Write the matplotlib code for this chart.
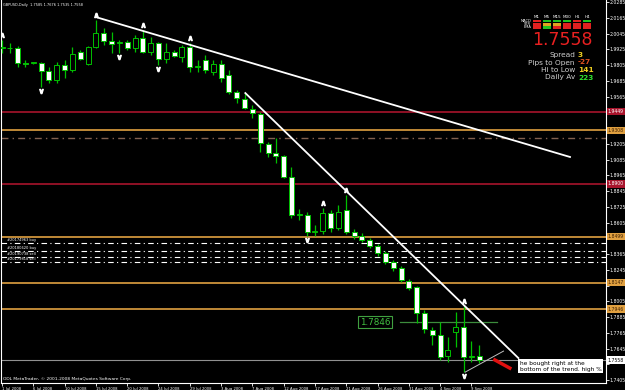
import matplotlib
matplotlib.use("Agg")
import matplotlib.pyplot as plt
from matplotlib.patches import Rectangle

# GBPUSD daily, 1 Jul - 10 Sep 2008 (ODL feed: Sunday bars included)
opens = [1.9935, 1.9935, 1.9935, 1.9821, 1.9821, 1.9821, 1.9760, 1.9691, 1.9806, 1.9768,
         1.9905, 1.9813, 1.9943, 2.0050, 1.9989, 1.9973, 1.9981, 1.9935, 2.0011, 1.9905,
         1.9973, 1.9851, 1.9905, 1.9867, 1.9943, 1.9790, 1.9844, 1.9752, 1.9813, 1.9729,
         1.9600, 1.9547, 1.9470, 1.9432, 1.9204, 1.9135, 1.9112, 1.8952, 1.8663, 1.8663,
         1.8533, 1.8540, 1.8678, 1.8564, 1.8700, 1.8533, 1.8503, 1.8472, 1.8426, 1.8373,
         1.8305, 1.8259, 1.8160, 1.8114, 1.7916, 1.7786, 1.7748, 1.7588, 1.7771, 1.7809,
         1.7581, 1.7585]
highs = [1.9996, 1.9973, 1.9950, 1.9844, 1.9829, 1.9829, 1.9790, 1.9829, 1.9844, 1.9943,
         1.9920, 1.9950, 2.0149, 2.0088, 2.0057, 1.9996, 1.9996, 2.0034, 2.0072, 2.0019,
         1.9980, 1.9973, 1.9920, 1.9958, 1.9973, 1.9844, 1.9882, 1.9844, 1.9844, 1.9768,
         1.9615, 1.9592, 1.9501, 1.9448, 1.9219, 1.9249, 1.9120, 1.9028, 1.8710, 1.8686,
         1.8586, 1.8716, 1.8700, 1.8739, 1.8815, 1.8556, 1.8525, 1.8490, 1.8440, 1.8390,
         1.8320, 1.8275, 1.8175, 1.8125, 1.7939, 1.7809, 1.7847, 1.7733, 1.7924, 1.7969,
         1.7703, 1.7676]
lows = [1.9897, 1.9897, 1.9790, 1.9790, 1.9813, 1.9638, 1.9669, 1.9669, 1.9707, 1.9752,
        1.9844, 1.9806, 1.9935, 1.9958, 1.9897, 1.9897, 1.9920, 1.9905, 1.9897, 1.9882,
        1.9806, 1.9821, 1.9867, 1.9829, 1.9752, 1.9752, 1.9745, 1.9729, 1.9676, 1.9585,
        1.9516, 1.9470, 1.9402, 1.9143, 1.9105, 1.9059, 1.8945, 1.8640, 1.8625, 1.8503,
        1.8503, 1.8520, 1.8533, 1.8550, 1.8518, 1.8480, 1.8460, 1.8410, 1.8350, 1.8290,
        1.8240, 1.8150, 1.8090, 1.7840, 1.7764, 1.7672, 1.7558, 1.7543, 1.7657, 1.7466,
        1.7543, 1.7535]
closes = [1.9943, 1.9935, 1.9821, 1.9813, 1.9825, 1.9760, 1.9691, 1.9806, 1.9768, 1.9890,
          1.9851, 1.9943, 2.0050, 1.9989, 1.9966, 1.9981, 1.9935, 2.0011, 1.9905, 1.9973,
          1.9851, 1.9905, 1.9874, 1.9943, 1.9790, 1.9798, 1.9768, 1.9813, 1.9707, 1.9600,
          1.9554, 1.9478, 1.9440, 1.9211, 1.9135, 1.9112, 1.8952, 1.8663, 1.8670, 1.8533,
          1.8540, 1.8678, 1.8564, 1.8686, 1.8533, 1.8503, 1.8472, 1.8426, 1.8373, 1.8305,
          1.8259, 1.8167, 1.8106, 1.7916, 1.7794, 1.7748, 1.7581, 1.7634, 1.7809, 1.7581,
          1.7588, 1.7558]

date_labels = ["1 Jul 2008", "6 Jul 2008", "10 Jul 2008", "15 Jul 2008", "20 Jul 2008",
               "24 Jul 2008", "29 Jul 2008", "3 Aug 2008", "7 Aug 2008", "12 Aug 2008",
               "17 Aug 2008", "21 Aug 2008", "26 Aug 2008", "31 Aug 2008", "4 Sep 2008",
               "9 Sep 2008"]

up_fractals = [0, 12, 18, 24, 41, 44, 59]
down_fractals = [5, 15, 20, 39, 59]

# horizontal levels: (price, kind)
levels = [(1.9449, "red"), (1.9308, "orange"), (1.8900, "red"), (1.8499, "orange"),
          (1.8147, "orange"), (1.7946, "orange")]
dashdot_level = 1.9249
orders = [(1.8449, "#20174963 buy"), (1.8388, "#20180620 buy"),
          (1.8343, "#20190738 sell"), (1.8305, "#20179818 sell")]
bid = 1.7558
green_level = 1.7846

# trend lines as (bar, price) pairs
trend1 = [(12.0, 2.0171), (72.6, 1.9105)]
trend2 = [(31.1, 1.9592), (66.0, 1.7573)]
trend3 = [(59.2, 1.7466), (64.1, 1.7626)]
arrow = [(62.8, 1.7565), (65.1, 1.7490)]

tick_start, tick_step, tick_count = 1.7405, 0.012, 25

timeframes = ["M1", "M5", "M15", "M30", "H1", "H4"]
ind_rows = ["MACD", "STR", "EMA"]
ind_colors = [["r", "g", "g", "g", "r", "g"],
              ["r", "o", "o", "r", "r", "r"],
              ["r", "g", "r", "r", "r", "r"]]
info = [("Spread", "3", "#f0d020"), ("Pips to Open", "-27", "#e05020"),
        ("Hi to Low", "141", "#f0d020"), ("Daily Av", "223", "#30e030")]

RED = "#a8142c"
ORANGE = "#e0a040"
GREEN = "#00c000"
W, H = 625, 390

fig = plt.figure(figsize=(6.25, 3.9), dpi=100, facecolor="black")
ax = fig.add_axes([1 / W, 7 / H, 605 / W, 383 / H], facecolor="black")
ax.set_xlim(-0.13, 77.2)
ax.set_ylim(1.7383, 2.0301)

# candles
for i in range(len(opens)):
    o, h, l, c = opens[i], highs[i], lows[i], closes[i]
    ax.vlines(i, l, h, color=GREEN, lw=0.9, zorder=3)
    bottom = min(o, c)
    height = max(abs(c - o), 0.0004)
    face = "white" if c < o else "black"
    ax.add_patch(Rectangle((i - 0.32, bottom), 0.64, height, facecolor=face,
                           edgecolor=GREEN, lw=0.7, zorder=4))

for i in up_fractals:
    ax.plot(i, highs[i] + 0.0035, marker=r"$\wedge$", color="white", ms=3, zorder=5)
for i in down_fractals:
    ax.plot(i, lows[i] - 0.0032, marker=r"$\vee$", color="white", ms=3, zorder=5)

# levels
for price, kind in levels:
    col = RED if kind == "red" else ORANGE
    ax.axhline(price, color=col, lw=1.2, zorder=1)
    ax.text(1.003, price, f"{price:.4f}", transform=ax.get_yaxis_transform(),
            fontsize=3.3, color="white" if kind == "red" else "#402000",
            va="center", ha="left", zorder=6,
            bbox=dict(boxstyle="square,pad=0.25", fc=col, ec="none"))
ax.axhline(dashdot_level, color="#806050", lw=1.0, ls=(0, (5, 3, 1, 3)), zorder=1)
for price, name in orders:
    ax.axhline(price, color="white", lw=0.8, ls=(0, (5, 3, 1, 3)), zorder=1)
    ax.text(0.6, price + 0.0010, name, fontsize=2.6, color="white", va="bottom",
            ha="left", zorder=6)
ax.axhline(bid, color="#909090", lw=0.8, zorder=1)
ax.text(1.003, bid, f"{bid:.4f}", transform=ax.get_yaxis_transform(), fontsize=3.3,
        color="black", va="center", ha="left", zorder=6,
        bbox=dict(boxstyle="square,pad=0.25", fc="white", ec="none"))

ax.plot([50.9, 63.3], [green_level, green_level], color="#3c8c3c", lw=0.9, zorder=2)
ax.text(47.7, green_level, f"{green_level:.4f}", fontsize=6.3, color="#40c040",
        va="center", ha="center", zorder=6,
        bbox=dict(boxstyle="square,pad=0.2", fc="black", ec="#40a040", lw=0.8))

for line, lw, col in [(trend1, 1.3, "white"), (trend2, 1.3, "white"), (trend3, 0.7, "#c0c0c0")]:
    ax.plot([p[0] for p in line], [p[1] for p in line], color=col, lw=lw, zorder=5)
ax.plot([p[0] for p in arrow], [p[1] for p in arrow], color="#e01010", lw=2.5,
        solid_capstyle="butt", zorder=6)

ax.text(66.2, 1.7552, "he bought right at the\nbottom of the trend. high %",
        fontsize=4.2, color="black", va="top", ha="left", linespacing=1.25, zorder=7,
        bbox=dict(boxstyle="square,pad=0.25", fc="white", ec="none"))

# axes styling; price ticks hidden behind a level label are left blank
ax.yaxis.tick_right()
ticks = [tick_start + k * tick_step for k in range(tick_count)]
label_prices = [p for p, _ in levels] + [bid]
tick_text = []
for t in ticks:
    hidden = any(abs(t - p) < 0.0036 for p in label_prices)
    tick_text.append("" if hidden else f"{t:.4f}")
ax.set_yticks(ticks, tick_text)
ax.set_xticks(range(0, 4 * len(date_labels), 4), date_labels, ha="left")
ax.tick_params(colors="white", labelsize=2.7, length=2, width=0.6, pad=0.8)
ax.tick_params(axis="y", labelsize=3.3)
for lab in ax.get_xticklabels():
    lab.set_color("white")
for lab in ax.get_yticklabels():
    lab.set_color("white")
for side in ["left", "right", "bottom"]:
    ax.spines[side].set_color("white")
    ax.spines[side].set_linewidth(0.8)
ax.spines["top"].set_visible(False)

# header, copyright
ax.text(0.004, 0.993, "GBPUSD,Daily  1.7585 1.7676 1.7535 1.7558", transform=ax.transAxes,
        fontsize=2.5, color="white", va="top", ha="left")
ax.text(0.004, 0.006, "ODL MetaTrader, \u00a9 2001-2008 MetaQuotes Software Corp.",
        transform=ax.transAxes, fontsize=3.2, color="white", va="bottom", ha="left")


def fx(x, y):
    return x / W, 1 - y / H


# indicator panel top right
cmap = {"r": "#e02020", "g": "#20c020", "o": "#e0a020"}
for j, tf in enumerate(timeframes):
    fig.text(*fx(537 + j * 10, 16.5), tf, fontsize=3.0, color="white", ha="center", va="center")
for r, name in enumerate(ind_rows):
    fig.text(*fx(531, 21 + r * 3.2), name, fontsize=2.6, color="white", ha="right", va="center")
    for j in range(len(timeframes)):
        x0, y0 = fx(533 + j * 10, 22.3 + r * 3.2)
        fig.patches.append(Rectangle((x0, y0), 8 / W, 2.4 / H, transform=fig.transFigure,
                                     facecolor=cmap[ind_colors[r][j]], edgecolor="none"))
fig.text(*fx(562, 40), f"{bid:.4f}", fontsize=12.5, color="#e82020", ha="center", va="center")
for k, (lab, val, col) in enumerate(info):
    fig.text(*fx(575, 55 + k * 7.5), lab, fontsize=5.3, color="#d0d0d0", ha="right", va="center")
    fig.text(*fx(578, 55 + k * 7.5), val, fontsize=5.3, color=col, ha="left", va="center",
             fontweight="bold")

fig.savefig("out.png", dpi=100, facecolor="black")
